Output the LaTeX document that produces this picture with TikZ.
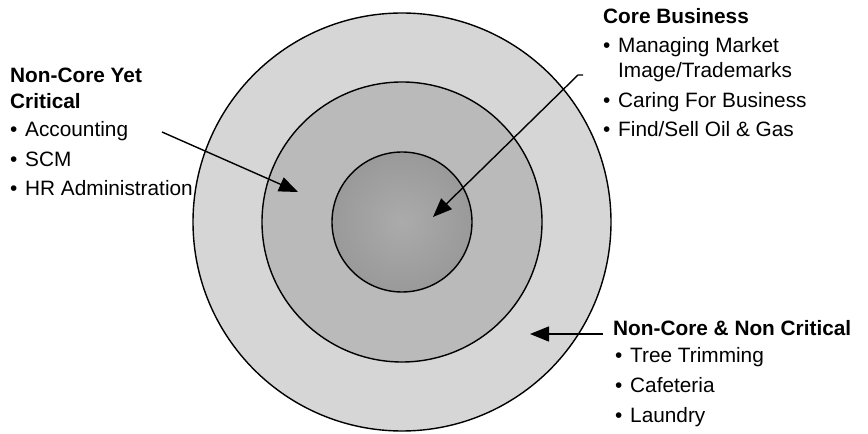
\documentclass[tikz,border=0pt]{standalone}
\usepackage{fontspec}
\setmainfont{Liberation Sans}
\usetikzlibrary{positioning,arrows.meta}

\definecolor{outerlight}{HTML}{D6D6D6}
\definecolor{outerdark}{HTML}{C4C4C4}
\definecolor{midlight}{HTML}{BABABA}
\definecolor{middark}{HTML}{AAAAAA}
\definecolor{corelight}{HTML}{ABABAB}
\definecolor{coredark}{HTML}{888888}

\pgfdeclareradialshading{outershade}{\pgfpoint{0bp}{0bp}}{color(0bp)=(outerlight); color(35bp)=(outerlight); color(50bp)=(outerdark)}
\pgfdeclareradialshading{midshade}{\pgfpoint{0bp}{0bp}}{color(0bp)=(midlight); color(25bp)=(midlight); color(50bp)=(middark)}
\pgfdeclareradialshading{coreshade}{\pgfpoint{0bp}{0bp}}{color(0bp)=(corelight); color(50bp)=(coredark)}

\newcommand{\bul}{\makebox[15pt][l]{\textbullet}}
\newcommand{\bulgap}{\hspace*{15pt}}

\begin{document}
\begin{tikzpicture}[
    x=1pt, y=1pt,
    font=\fontsize{20.8}{25}\selectfont,
    ring/.style={circle, draw=black, line width=1.4pt, inner sep=0pt, shade},
    blocktext/.style={align=left, inner sep=0pt, anchor=base west},
    pointer/.style={-{Triangle[length=19pt,width=15pt]}, draw=black, line width=1.4pt}
  ]
    \useasboundingbox (0,0) rectangle (868,434);

    % rings, outside in
    \node[ring, shading=outershade, minimum size=418pt] (outer) at (402,212) {};
    \node[ring, shading=midshade, minimum size=280pt] (middle) at (402,212) {};
    \node[ring, shading=coreshade, minimum size=140pt] (core) at (402,212) {};

    % labels, placed at the baseline of their last line
    \node[blocktext] (crit) at (10,238) {
      \textbf{Non-Core Yet}\\[1pt]
      \textbf{Critical}\\[3pt]
      \bul Accounting\\[5pt]
      \bul SCM\\[4pt]
      \bul HR Administration
    };

    \node[blocktext] (business) at (603,297) {
      \textbf{Core Business}\\[4pt]
      \bul Managing Market\\
      \bulgap Image/Trademarks\\[5pt]
      \bul Caring For Business\\[4pt]
      \bul Find/Sell Oil \& Gas
    };

    \node[blocktext] (noncore) at (613,12) {
      \textbf{Non-Core \& Non Critical}\\[3pt]
      \hspace*{2pt}\bul Tree Trimming\\[5pt]
      \hspace*{2pt}\bul Cafeteria\\[4pt]
      \hspace*{2pt}\bul Laundry
    };

    % arrow ends
    \coordinate (critfrom) at (162,302);
    \coordinate (critto) at (298,242);
    \coordinate (busfrom) at (583,359);
    \coordinate (busbend) at (578,359);
    \coordinate (busto) at (433,217);
    \coordinate (noncorefrom) at (603,100);
    \coordinate (noncoreto) at (530,100);

    \draw[pointer] (critfrom) -- (critto);
    \draw[pointer] (busfrom) -- (busbend) -- (busto);
    \draw[pointer] (noncorefrom) -- (noncoreto);
  \end{tikzpicture}
\end{document}
